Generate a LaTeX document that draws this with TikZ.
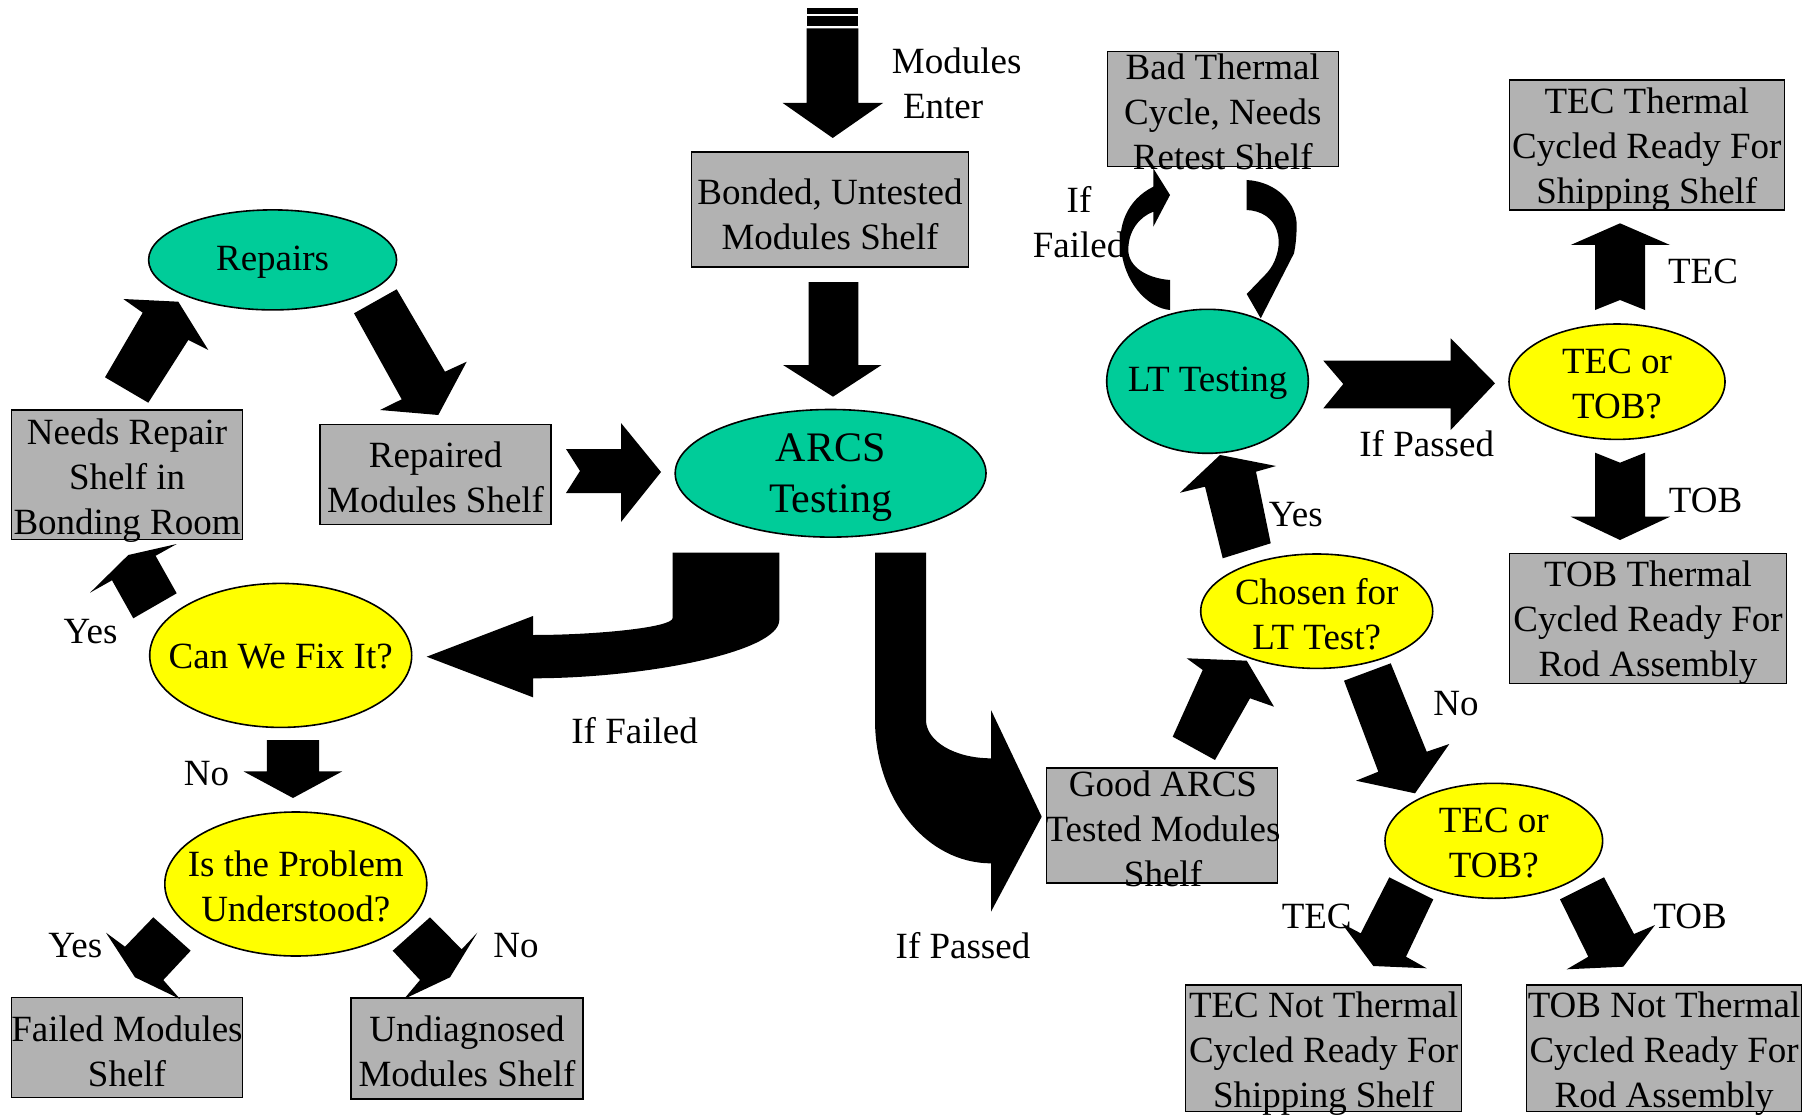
\documentclass[tikz,border=0pt]{standalone}
\usepackage{fontspec}
\setmainfont{Liberation Serif}
\usetikzlibrary{shapes.geometric}
\definecolor{shelfgray}{HTML}{B2B2B2}
\definecolor{testteal}{HTML}{00CC99}
\definecolor{askyellow}{HTML}{FFFF00}
\begin{document}
\begin{tikzpicture}[x=1pt,y=-1pt,
  every node/.style={font=\fontsize{37}{45}\selectfont},
  shelf/.style={rectangle, draw=black, line width=1.6pt, fill=shelfgray, inner sep=0pt},
  test/.style={ellipse, draw=black, line width=1.6pt, fill=testteal, inner sep=0pt},
  ask/.style={ellipse, draw=black, line width=1.6pt, fill=askyellow, inner sep=0pt},
  txt/.style={align=center, inner sep=0pt},
  blk/.style={fill=black}]
\useasboundingbox (0,0) rectangle (1819,1115);

% ---------- shelves ----------
\node[shelf, minimum width=277.2pt, minimum height=114.8pt] (bonded) at (830,209.4) {};
\node[txt] at (830,214) {Bonded, Untested\\Modules Shelf};
\node[shelf, minimum width=231pt, minimum height=129.4pt] (needs) at (127.1,474.7) {};
\node[txt] at (127.1,481) {Needs Repair\\Shelf in\\Bonding Room};
\node[shelf, minimum width=230.8pt, minimum height=99.7pt] (repaired) at (435.6,474.5) {};
\node[txt] at (435.6,477) {Repaired\\Modules Shelf};
\node[shelf, minimum width=231pt, minimum height=99.8pt] (failed) at (127,1047.5) {};
\node[txt] at (127,1051) {Failed Modules\\Shelf};
\node[shelf, minimum width=232pt, minimum height=101pt] (undiag) at (467,1048.5) {};
\node[txt] at (467,1051) {Undiagnosed\\Modules Shelf};
\node[shelf, minimum width=231pt, minimum height=114.8pt] (good) at (1161.8,825.4) {};
\node[txt] at (1163,828.5) {Good ARCS\\Tested Modules\\Shelf};
\node[shelf, minimum width=231pt, minimum height=115pt] (bad) at (1222.8,109.2) {};
\node[txt] at (1222.8,112) {Bad Thermal\\Cycle, Needs\\Retest Shelf};
\node[shelf, minimum width=275pt, minimum height=130pt] (tecship) at (1646.8,145) {};
\node[txt] at (1646.8,150) {TEC Thermal\\Cycled Ready For\\Shipping Shelf};
\node[shelf, minimum width=277.3pt, minimum height=130pt] (tobrod) at (1648,618.4) {};
\node[txt] at (1648,623) {TOB Thermal\\Cycled Ready For\\Rod Assembly};
\node[shelf, minimum width=276.1pt, minimum height=126.4pt] (tecnot) at (1323.6,1048.2) {};
\node[txt] at (1323.6,1054) {TEC Not Thermal\\Cycled Ready For\\Shipping Shelf};
\node[shelf, minimum width=275pt, minimum height=126.4pt] (tobnot) at (1664.1,1048.2) {};
\node[txt] at (1664.1,1054) {TOB Not Thermal\\Cycled Ready For\\Rod Assembly};

% ---------- ellipses ----------
\node[test, minimum width=248pt, minimum height=100pt] (repairs) at (272.6,259.9) {};
\node[txt] at (272.6,262) {Repairs};
\node[test, minimum width=310.8pt, minimum height=127.6pt] (arcs) at (830.6,473.3) {};
\node[txt, font=\fontsize{42}{51}\selectfont] at (830.6,478) {ARCS\\Testing};
\node[test, minimum width=201.6pt, minimum height=144pt] (lt) at (1207.5,381.3) {};
\node[txt] at (1207.5,383) {LT Testing};
\node[ask, minimum width=232pt, minimum height=114.4pt] (chosen) at (1316.7,611.2) {};
\node[txt] at (1316.7,614) {Chosen for\\LT Test?};
\node[ask, minimum width=216pt, minimum height=115.4pt] (tectob1) at (1617,381.7) {};
\node[txt] at (1617,384) {TEC or\\TOB?};
\node[ask, minimum width=217.6pt, minimum height=115pt] (tectob2) at (1493.8,840.8) {};
\node[txt] at (1493.8,843) {TEC or\\TOB?};
\node[ask, minimum width=262pt, minimum height=144pt] (canfix) at (280.7,655.4) {};
\node[txt] at (280.7,657) {Can We Fix It?};
\node[ask, minimum width=262pt, minimum height=144pt] (isprob) at (295.8,884) {};
\node[txt] at (295.8,886) {Is the Problem\\Understood?};

% ---------- block arrows ----------
% modules enter
\fill[blk] (806.7,8) rectangle (858.3,14);
\fill[blk] (806.7,16) rectangle (858.3,25.7);
\fill[blk] (806.7,28.3) -- (858.3,28.3) -- (858.3,103) -- (883,103) -- (832.7,138) -- (782.7,103) -- (806.7,103) -- cycle;
% bonded -> arcs
\fill[blk] (808.6,282) -- (858.4,282) -- (858.4,365) -- (881.6,365) -- (833,396.7) -- (783,365) -- (808.6,365) -- cycle;
% repaired -> arcs
\fill[blk] (566,449) -- (621,449) -- (621,423) -- (661,472) -- (621,522) -- (621,493) -- (566,493) -- (580,471) -- cycle;
% needs -> repairs
\fill[blk] (123.3,299) -- (178.3,301.7) -- (208.3,350) -- (188.3,340) -- (148.3,402.7) -- (105,377.3) -- (142.7,312.7) -- cycle;
% repairs -> repaired
\fill[blk] (354,313.3) -- (396.7,289.3) -- (445,371.7) -- (466.7,361.7) -- (438.3,415) -- (380,410) -- (401.7,399.3) -- cycle;
% canfix -> needs (Yes)
\fill[blk] (90,592.7) -- (128.3,555) -- (176.7,544) -- (155.6,555.8) -- (176.7,593.3) -- (133.3,618.3) -- (112,580.3) -- cycle;
% canfix -> isprob (No)
\fill[blk] (266.8,740) -- (319,740) -- (319,771.4) -- (342.2,771.4) -- (293,798) -- (243.6,771.4) -- (266.8,771.4) -- cycle;
% isprob -> failed
\fill[blk] (153.3,917.3) -- (190.7,950.7) -- (163.3,980) -- (180,999) -- (135,977.3) -- (106,932.7) -- (125,946.7) -- cycle;
% isprob -> undiag
\fill[blk] (430,917.3) -- (461.7,949.3) -- (477.3,932.7) -- (450,977.3) -- (404,999) -- (420,980) -- (392.7,950.7) -- cycle;
% arcs -> canfix (If Failed)
\fill[blk] (672.7,552.7) -- (779.3,552.7) -- (779.3,620) .. controls (779.3,652.2) and (643.7,678.3) .. (533,678.3) -- (533,697.3) -- (426.7,656.7) -- (533,616) -- (533,635) .. controls (595.7,635) and (672.7,627.5) .. (672.7,618) -- cycle;
% arcs -> good (If Passed)
\fill[blk] (875,552.7) -- (926,552.7) -- (926,720) .. controls (926,741.2) and (954.7,758.3) .. (991,758.3) -- (991,710) -- (1041.7,816.7) -- (991,911.7) -- (991,863.3) .. controls (926.5,863.3) and (875,799.3) .. (875,720) -- cycle;
% good -> chosen
\fill[blk] (1186.7,658.3) -- (1246.7,660.7) -- (1274,706.7) -- (1250,698.3) -- (1215,760) -- (1172.7,736.7) -- (1202.7,670) -- cycle;
% chosen -> lt (Yes)
\fill[blk] (1180,492.7) -- (1220,455) -- (1276,466) -- (1256,471.7) -- (1270.7,543.3) -- (1222.7,558.3) -- (1205,486.7) -- cycle;
% chosen -> tectob2 (No)
\fill[blk] (1344,680.7) -- (1390.7,663.3) -- (1426.7,751.7) -- (1449.3,744) -- (1415,793.3) -- (1356,780.7) -- (1378.3,771.7) -- cycle;
% tectob2 -> tecnot
\fill[blk] (1389.3,877.3) -- (1433.3,899.3) -- (1406,956.7) -- (1426.7,968.3) -- (1373.3,966) -- (1341.7,923.3) -- (1360.7,933.3) -- cycle;
% tectob2 -> tobnot
\fill[blk] (1560,899.3) -- (1604,877.3) -- (1634,934) -- (1655,925) -- (1623.3,966.7) -- (1566.7,969.3) -- (1588.3,956.7) -- cycle;
% lt -> tectob1
\fill[blk] (1323.3,360.7) -- (1450.7,360.7) -- (1450.7,338.3) -- (1495,383.3) -- (1450.7,430) -- (1450.7,408.3) -- (1323.3,408.3) -- (1343.3,384) -- cycle;
% tectob1 -> tecship
\fill[blk] (1620,223.3) -- (1670,245) -- (1645,245) -- (1645,310) -- (1620,300) -- (1595,310) -- (1595,245) -- (1570.7,245) -- cycle;
% tectob1 -> tobrod
\fill[blk] (1595,452.7) -- (1620,462.7) -- (1645,452.7) -- (1645,516.7) -- (1670,516.7) -- (1620,540) -- (1570.7,516.7) -- (1595,516.7) -- cycle;
% lt -> bad (If Failed loop)
\fill[blk] (1170,310) -- (1170,280) .. controls (1146.7,278.3) and (1128.3,266.7) .. (1128.3,250) .. controls (1128.3,230) and (1140,216.7) .. (1153.3,211.7) -- (1153.3,226.7) -- (1170,195) -- (1153.3,168.3) -- (1153.3,186.7) .. controls (1126.7,200) and (1116.7,226.7) .. (1121.7,253.3) .. controls (1126.7,286.7) and (1150,308.3) .. (1170,310) -- cycle;
% bad -> lt
\fill[blk] (1246.7,180) .. controls (1276.7,181.7) and (1297.3,203.3) .. (1296.7,226.7) .. controls (1296.3,240) and (1295.3,246.7) .. (1294,253.3) -- (1260.7,318.3) -- (1246.7,294) -- (1265,275) .. controls (1276.7,263.3) and (1280,246.7) .. (1278.3,236.7) .. controls (1275,216.7) and (1260,210.7) .. (1246.7,210) -- cycle;

% ---------- labels ----------
\node[txt, align=left, anchor=west] (lblenter) at (891.7,83) {Modules\\\hspace{0.3em}Enter};
\node[txt] (lblfail1) at (634.6,731) {If Failed};
\node[txt] (lblpass1) at (963,945.5) {If Passed};
\node[txt] (lblyes1) at (90.5,632) {Yes};
\node[txt] (lblno1) at (206.5,774) {No};
\node[txt] (lblyes2) at (75.4,945.5) {Yes};
\node[txt] (lblno2) at (516,945.5) {No};
\node[txt] (lblfail2) at (1079,222) {If\\Failed};
\node[txt] (lblpass2) at (1426.7,443.3) {If Passed};
\node[txt] (lbltec1) at (1703,271.5) {TEC};
\node[txt] (lbltob1) at (1705.5,500) {TOB};
\node[txt] (lblyes3) at (1295.8,515) {Yes};
\node[txt] (lblno3) at (1456,703.3) {No};
\node[txt] (lbltec2) at (1316.7,916.5) {TEC};
\node[txt] (lbltob2) at (1690,916.5) {TOB};
\end{tikzpicture}
\end{document}
